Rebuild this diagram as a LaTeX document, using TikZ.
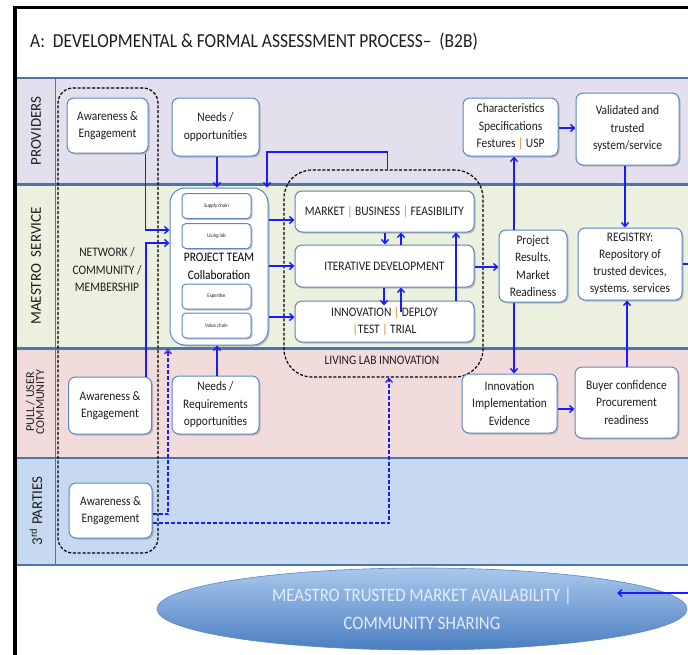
\documentclass[tikz,border=0pt]{standalone}
\usepackage{fontspec}
\setmainfont{Carlito}[FakeStretch=0.88]
\newfontfamily\lanefont{Carlito}
\usetikzlibrary{arrows.meta,shadows,shapes.geometric,calc}
\definecolor{provfill}{HTML}{E4DFEC}
\definecolor{maefill}{HTML}{EBF0DF}
\definecolor{pullfill}{HTML}{F2DCDB}
\definecolor{thirdfill}{HTML}{C6D9F1}
\definecolor{laneline}{HTML}{4A76AE}
\definecolor{boxblue}{HTML}{5A88C4}
\definecolor{arrblue}{HTML}{1A1AFF}
\definecolor{txtdark}{HTML}{1E1E1E}
\definecolor{sepor}{HTML}{D9822B}
\definecolor{ellTop}{HTML}{A9C8EC}
\definecolor{ellBot}{HTML}{4A7EC2}
\definecolor{ellBord}{HTML}{5B86BE}
\definecolor{ellText}{HTML}{E6EDF7}
\newcommand{\obar}{\textcolor{sepor}{|}}
\begin{document}
\begin{tikzpicture}[x=1pt,y=-1pt,
  boxnode/.style={draw=boxblue, fill=white, rounded corners=7pt, line width=1pt,
    align=center, inner sep=1pt, text=txtdark,
    font=\fontsize{13}{17.5}\selectfont,
    drop shadow={shadow xshift=1.5pt, shadow yshift=-1.5pt, opacity=0.35, fill=black!60}},
  smallbox/.style={boxnode, rounded corners=4pt, minimum width=69pt, minimum height=25pt,
    font=\fontsize{5.5}{6}\selectfont},
  grp/.style={draw=black, line width=1.2pt, dash pattern=on 3pt off 1.8pt},
  arr/.style={draw=arrblue, line width=1.4pt, -{Straight Barb[length=4pt,width=7pt]}},
  darr/.style={arr, line width=1.2pt, dash pattern=on 4pt off 2pt},
  lanelbl/.style={rotate=90, text=txtdark, font=\lanefont\fontsize{15}{15}\selectfont, align=center},
  plain/.style={text=txtdark, align=center, font=\fontsize{13}{17.5}\selectfont}
]
\useasboundingbox (0,0) rectangle (688,654);
\fill[white] (0,0) rectangle (688,654);

% lanes
\fill[provfill] (17,78) rectangle (700,184.5);
\fill[maefill] (17,184.5) rectangle (700,348.5);
\fill[pullfill] (17,348.5) rectangle (700,458);
\fill[thirdfill] (17,458) rectangle (700,565);
\foreach \yy in {78,184.5,348.5,458,565}
  \draw[laneline, line width=2.5pt] (17,\yy) -- (700,\yy);
\draw[laneline, line width=1pt] (55,78) -- (55,565);

% frame
\draw[black, line width=3.5pt] (15,700) -- (15,7.5) -- (700,7.5);

% title
\node[anchor=base west, text=txtdark, font=\fontsize{19.8}{22}\selectfont, inner sep=0] (title) at (30,47)
  {A:\ \ DEVELOPMENTAL \& FORMAL ASSESSMENT PROCESS–\ \ (B2B)};

% lane labels
\node[lanelbl] (lprov) at (36,131) {PROVIDERS};
\node[lanelbl] (lmae) at (36,266) {MAESTRO\ \ SERVICE};
\node[lanelbl, font=\lanefont\fontsize{12}{10}\selectfont] (lpull) at (35,402) {PULL / USER\\COMMUNITY};
\node[lanelbl] (lthird) at (36,511) {3\textsuperscript{rd} PARTIES};

% groups
\node[grp, rounded corners=15pt, minimum width=100pt, minimum height=465pt, inner sep=0] (net) at (108,320.5) {};
\node[plain] (nettxt) at (107,270) {NETWORK /\\COMMUNITY /\\MEMBERSHIP};
\node[grp, rounded corners=28pt, minimum width=199pt, minimum height=207pt, inner sep=0] (llg) at (383.5,273.5) {};
\node[plain] (lltxt) at (382,360) {LIVING LAB INNOVATION};

% left boxes
\node[boxnode, minimum width=81pt, minimum height=55pt] (aw1) at (107.5,125.5) {Awareness \&\\Engagement};
\node[boxnode, minimum width=87pt, minimum height=58pt] (needs1) at (215.5,127) {Needs /\\opportunities};
\node[boxnode, minimum width=83pt, minimum height=57pt] (aw2) at (110,405.5) {Awareness \&\\Engagement};
\node[boxnode, minimum width=87pt, minimum height=58pt] (needs2) at (215.5,405) {Needs /\\Requirements\\opportunities};
\node[boxnode, minimum width=83pt, minimum height=55pt] (aw3) at (110.5,510.5) {Awareness \&\\Engagement};

% project team
\node[boxnode, rounded corners=15pt, minimum width=98pt, minimum height=157pt, text=black] (pt) at (219,266.5) {PROJECT TEAM\\Collaboration};
\node[smallbox] (sc) at (216.5,206) {Supply chain};
\node[smallbox] (lab) at (216.5,236) {Living lab};
\node[smallbox] (ex) at (216.5,296.5) {Expertise};
\node[smallbox] (vc) at (216.5,325.5) {Value chain};

% living lab boxes
\node[boxnode, minimum width=179pt, minimum height=41pt] (mbf) at (384.5,211.5) {MARKET \obar{} BUSINESS \obar{} FEASIBILITY};
\node[boxnode, minimum width=179pt, minimum height=42pt] (idv) at (384.5,266) {ITERATIVE DEVELOPMENT};
\node[boxnode, minimum width=179pt, minimum height=41pt] (inn) at (384.5,321.5) {INNOVATION \obar{} DEPLOY\\\obar{}TEST \obar{} TRIAL};

% right column
\node[boxnode, minimum width=95pt, minimum height=58pt] (chr) at (510.5,127) {Characteristics\\Specifications\\Festures \obar{} USP};
\node[boxnode, minimum width=103pt, minimum height=72pt] (val) at (627.5,129) {Validated and\\trusted\\system/service};
\node[boxnode, minimum width=68pt, minimum height=72pt] (pr) at (533,266) {Project\\Results.\\Market\\Readiness};
\node[boxnode, minimum width=104pt, minimum height=72pt, font=\fontsize{13}{17}\selectfont] (reg) at (630,264) {REGISTRY:\\Repository of\\trusted devices,\\systems. services};
\node[boxnode, minimum width=95pt, minimum height=59pt] (iie) at (509.5,403.5) {Innovation\\Implementation\\Evidence};
\node[boxnode, minimum width=103pt, minimum height=71pt] (buy) at (626.5,402.5) {Buyer confidence\\Procurement\\readiness};

% ellipse
\node[ellipse, minimum width=530pt, minimum height=82pt, top color=ellTop, bottom color=ellBot,
  draw=ellBord, line width=0.6pt, text=ellText, align=center, font=\fontsize{19}{28}\selectfont] (mkt) at (422,609)
  {MEASTRO TRUSTED MARKET AVAILABILITY |\\COMMUNITY SHARING};

% connectors
\draw[arr] ($(aw1.south east)+(-3,0)$) |- ($(pt.west)+(0,-36.5)$);
\draw[arr] ($(aw2.north east)+(-6,0)$) |- ($(pt.west)+(0,-23.5)$);
\draw[arr] ($(needs1.south)+(1.5,0)$) -- ($(needs1.south |- pt.north)+(1.5,0)$);
\draw[arr] ($(needs2.north)+(1.5,0)$) -- ($(needs2.north |- pt.south)+(1.5,0)$);
\coordinate (loopc) at (267,152);
\draw[arr] ($(llg.north)+(4,0)$) |- (loopc) -- (loopc |- pt.north);
\coordinate (d1) at (168,349);
\draw[darr] ($(aw3.east)+(0,3.5)$) -| (d1);
\draw[darr] ($(aw3.east)+(0,12.5)$) -| ($(llg.south)+(5.5,0)$);

\draw[arr] ($(mbf.west -| pt.east)+(0,8.5)$) -- ($(mbf.west)+(0,8.5)$);
\draw[arr] (idv.west -| pt.east) -- (idv.west);
\draw[arr] ($(inn.west -| pt.east)+(0,-4.5)$) -- ($(inn.west)+(0,-4.5)$);

\draw[arr] ($(mbf.south)+(0.5,0)$) -- ($(idv.north)+(0.5,0)$);
\draw[arr] ($(idv.north)+(16.5,0)$) -- ($(mbf.south)+(16.5,0)$);
\draw[arr] ($(idv.south)+(-0.5,0)$) -- ($(inn.north)+(-0.5,5)$);
\draw[arr] ($(inn.north)+(16.5,11)$) -- ($(idv.south)+(16.5,0)$);
\draw[arr] ($(inn.north)+(71.5,0)$) -- ($(mbf.south)+(71.5,0)$);

\draw[arr] ($(idv.east)+(0,1)$) -- ($(idv.east -| pr.west)+(0,1)$);
\draw[arr] ($(pr.north)+(-19,0)$) -- ($(chr.south)+(3.5,0)$);
\draw[arr] ($(chr.east)+(0,1)$) -- ($(chr.east -| val.west)+(0,1)$);
\draw[arr] ($(val.south)+(-2.5,0)$) -- ($(reg.north)+(-5,0)$);
\draw[arr] ($(pr.south)+(-19,0)$) -- ($(iie.north)+(4.5,0)$);
\coordinate (ib) at ($(iie.east)+(0,5.5)$);
\draw[arr] (ib) -- (ib -| buy.west);
\draw[arr] ($(buy.north)+(0.5,0)$) -- ($(reg.south)+(-3,0)$);
\coordinate (offR) at (700,593);
\coordinate (mktTip) at (617,593);
\draw[arr] (reg.east) -| (offR) -- (mktTip);
\end{tikzpicture}
\end{document}
